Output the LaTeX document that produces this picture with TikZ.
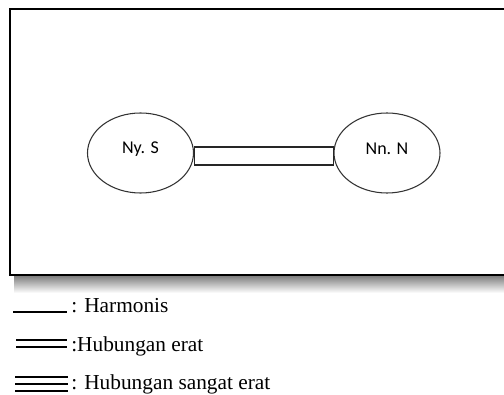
\documentclass[tikz,border=0pt]{standalone}
\usepackage{fontspec}
\setmainfont{Liberation Serif}
\newfontfamily\carlito{Carlito}
\usetikzlibrary{shapes.geometric}
\tikzstyle{frame}=[line width=1.2pt,black]
\tikzstyle{person}=[ellipse,draw=black!80,line width=0.8pt,minimum width=79.5pt,minimum height=60pt,inner sep=0pt]
\tikzstyle{who}=[anchor=base,yshift=3pt,font=\carlito\fontsize{13.5}{16}\selectfont]
\tikzstyle{tie}=[line width=0.8pt,black!85]
\tikzstyle{keyline}=[line width=1.4pt,black]
\tikzstyle{keytext}=[anchor=base west,inner sep=0pt,font=\fontsize{16}{19}\selectfont]

\begin{document}
\begin{tikzpicture}[x=0.75pt,y=-0.75pt]
		\useasboundingbox (0,0) rectangle (504,395);
		\clip (0,0) rectangle (504,395);

%		frame with its shadow
		\shade[top color=black!50,bottom color=white] (14,276) rectangle (512,293);
		\draw[frame] (10,9) rectangle (512,275);

		\node[person,label={[who]center:Ny. S}] (nyS) at (140.5,153) {};
		\node[person,label={[who]center:Nn. N}] (nnN) at (387,153) {};

		\draw[tie] ([yshift=4.5pt]nyS.east) rectangle ([yshift=-9pt]nnN.west);

%		legend
		\draw[keyline] (13,312) -- (67,312);
		\node[keytext] (harmonis) at (71,313) {: Harmonis};

		\foreach \y in {340,347} {\draw[keyline] (16,\y) -- (67,\y);}
		\node[keytext] (erat) at (71,352) {:Hubungan erat};

		\foreach \y in {377,384,391} {\draw[keyline] (15,\y) -- (68,\y);}
		\node[keytext] (sangat) at (71,390) {: Hubungan sangat erat};
	\end{tikzpicture}
\end{document}
